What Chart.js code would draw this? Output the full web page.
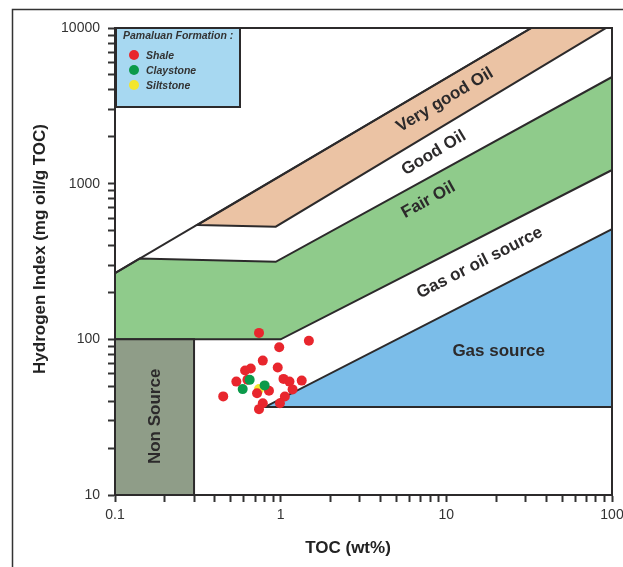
<!DOCTYPE html>
<html>
<head>
<meta charset="utf-8">
<title>Pamaluan Formation - HI vs TOC</title>
<script src="https://cdn.jsdelivr.net/npm/chart.js@4.4.1/dist/chart.umd.min.js"></script>
<style>
  html, body { margin: 0; padding: 0; background: #fff; }
  #wrap { position: relative; width: 623px; height: 567px; }
</style>
</head>
<body>
<div id="wrap"><canvas id="hiTocChart" width="623" height="567"></canvas></div>
<script>
// Pamaluan Formation samples (TOC wt%, HI mg oil/g TOC)
var shaleToc = [0.74, 0.98, 1.48, 0.78, 0.96, 0.66, 0.61, 0.63, 0.54, 1.04, 1.13, 1.34, 1.18, 0.85, 0.72, 0.45, 1.06, 0.78, 0.99, 0.74];
var shaleHi = [110, 89, 98, 73, 66, 65, 63, 55, 53.5, 55.7, 53.5, 54.3, 47.7, 46.8, 45.1, 43, 42.9, 38.9, 38.9, 35.6];
var claystoneToc = [0.59, 0.80, 0.65];
var claystoneHi = [47.9, 50.6, 54.9];
var siltstoneToc = [0.74];
var siltstoneHi = [47.9];

// log axis decades
var tocTicks = [0.1, 1, 10, 100];
var tocTickLabels = ['0.1', '1', '10', '100'];
var hiTicks = [10, 100, 1000, 10000];
var hiTickLabels = ['10', '100', '1000', '10000'];

// source rock zones, outlines as [TOC, HI]
var veryGoodOilZone = [[0.315, 543], [0.934, 529], [92, 10000], [32.6, 10000]];
var fairOilZone = [[0.1, 100], [1, 100], [100, 1224], [100, 4844], [0.934, 315], [0.141, 331], [0.1, 266]];
var gasSourceZone = [[0.805, 36.8], [100, 36.8], [100, 510]];
var nonSourceZone = [[0.1, 10], [0.3, 10], [0.3, 100], [0.1, 100]];
var oilLimitLine = [[0.1, 266], [32.6, 10000]];
var gasBaseLine = [[0.78, 36.8], [100, 36.8]];

var zoneLabels = ['Very good Oil', 'Good Oil', 'Fair Oil', 'Gas or oil source', 'Gas source', 'Non Source'];
var zoneLabelToc = [9.8, 8.4, 7.8, 15.9, 20.7, 0.175];
var zoneLabelHi = [3450, 1575, 785, 310, 84, 32];
var zoneLabelAngle = [-31, -31, -29, -27, 0, -90];

var legendTitle = 'Pamaluan Formation :';
var legendNames = ['Shale', 'Claystone', 'Siltstone'];
var legendColors = ['#e8262d', '#0b9a4a', '#f3e62c'];

function toPoints(xs, ys) {
    return xs.map(function (x, i) { return { x: x, y: ys[i] }; });
}

// all 1..9 steps inside each decade
function decadeTicks(majors) {
    var out = [];
    for (var i = 0; i < majors.length; i++) {
        for (var m = 1; m <= 9; m++) {
            if (i === majors.length - 1 && m > 1) break;
            out.push({ value: majors[i] * m });
        }
    }
    return out;
}

var font = 'Liberation Sans, Arial, sans-serif';
var ink = '#2c2a2b';

var zonesPlugin = {
    id: 'zones',
    beforeDatasetsDraw: function (chart) {
        var ctx = chart.ctx, xs = chart.scales.x, ys = chart.scales.y, a = chart.chartArea;

        function path(pts, close) {
            ctx.beginPath();
            pts.forEach(function (p, i) {
                var px = xs.getPixelForValue(p[0]), py = ys.getPixelForValue(p[1]);
                if (i === 0) ctx.moveTo(px, py); else ctx.lineTo(px, py);
            });
            if (close) ctx.closePath();
        }

        ctx.save();
        ctx.beginPath();
        ctx.rect(a.left, a.top, a.right - a.left, a.bottom - a.top);
        ctx.clip();
        ctx.lineWidth = 2;
        ctx.strokeStyle = ink;
        ctx.lineJoin = 'miter';

        [[veryGoodOilZone, '#ebc3a4'], [fairOilZone, '#8fcb8b'], [gasSourceZone, '#7bbde9'], [nonSourceZone, '#8f9d88']].forEach(function (z) {
            path(z[0], true);
            ctx.fillStyle = z[1];
            ctx.fill();
            ctx.stroke();
        });
        path(oilLimitLine, false);
        ctx.stroke();
        path(gasBaseLine, false);
        ctx.stroke();

        // zone names
        ctx.fillStyle = ink;
        ctx.font = 'bold 17px ' + font;
        ctx.textAlign = 'center';
        ctx.textBaseline = 'middle';
        zoneLabels.forEach(function (txt, i) {
            ctx.save();
            ctx.translate(xs.getPixelForValue(zoneLabelToc[i]), ys.getPixelForValue(zoneLabelHi[i]));
            ctx.rotate(zoneLabelAngle[i] * Math.PI / 180);
            ctx.fillText(txt, 0, 0);
            ctx.restore();
        });
        ctx.restore();
    },
    afterDatasetsDraw: function (chart) {
        var ctx = chart.ctx, a = chart.chartArea;
        ctx.save();
        ctx.lineWidth = 2;
        ctx.strokeStyle = ink;
        ctx.strokeRect(a.left, a.top, a.right - a.left, a.bottom - a.top);

        // legend box
        var lx = a.left + 1, ly = a.top;
        ctx.fillStyle = '#a7d8f1';
        ctx.fillRect(lx, ly, 124, 79);
        ctx.strokeRect(lx, ly, 124, 79);
        ctx.fillStyle = '#333';
        ctx.textAlign = 'left';
        ctx.textBaseline = 'middle';
        ctx.font = 'italic bold 10.5px ' + font;
        ctx.fillText(legendTitle, lx + 7, ly + 8);
        legendNames.forEach(function (name, i) {
            var cy = ly + 27 + i * 15;
            ctx.beginPath();
            ctx.arc(lx + 18, cy, 5, 0, Math.PI * 2);
            ctx.fillStyle = legendColors[i];
            ctx.fill();
            ctx.fillStyle = '#333';
            ctx.fillText(name, lx + 30, cy + 1);
        });

        // axis titles
        ctx.fillStyle = '#222';
        ctx.font = 'bold 17px ' + font;
        ctx.textAlign = 'center';
        ctx.fillText('TOC (wt%)', 348, 548);
        ctx.save();
        ctx.translate(40, 249);
        ctx.rotate(-Math.PI / 2);
        ctx.fillText('Hydrogen Index (mg oil/g TOC)', 0, 0);
        ctx.restore();

        // outer figure frame
        ctx.lineWidth = 1.5;
        ctx.strokeStyle = '#333';
        ctx.beginPath();
        ctx.moveTo(12.5, 567);
        ctx.lineTo(12.5, 9.5);
        ctx.lineTo(623, 9.5);
        ctx.stroke();
        ctx.restore();
    }
};

document.addEventListener('DOMContentLoaded', function () {
    var ctx = document.getElementById('hiTocChart').getContext('2d');

    var myChart = new Chart(ctx, {
        type: 'scatter',
        data: {
            datasets: [{
                label: 'Claystone',
                data: toPoints(claystoneToc, claystoneHi),
                backgroundColor: legendColors[1]
            }, {
                label: 'Shale',
                data: toPoints(shaleToc, shaleHi),
                backgroundColor: legendColors[0]
            }, {
                label: 'Siltstone',
                data: toPoints(siltstoneToc, siltstoneHi),
                backgroundColor: legendColors[2]
            }]
        },
        options: {
            responsive: false,
            animation: false,
            events: [],
            layout: { padding: { top: 28, right: 11, left: 0, bottom: 0 } },
            elements: { point: { radius: 5, hoverRadius: 5, borderWidth: 0 } },
            plugins: { legend: { display: false }, tooltip: { enabled: false } },
            scales: {
                x: {
                    type: 'logarithmic',
                    min: 0.1,
                    max: 100,
                    afterBuildTicks: function (scale) { scale.ticks = decadeTicks(tocTicks); },
                    afterFit: function (scale) {
                        scale.height = 72;
                        scale.paddingLeft = 0;
                        scale.paddingRight = 0;
                    },
                    grid: { drawOnChartArea: false, tickLength: 7, tickWidth: 2, tickColor: '#333' },
                    border: { color: '#333', width: 2 },
                    ticks: {
                        autoSkip: false,
                        maxRotation: 0,
                        padding: 5,
                        color: '#333',
                        font: { family: font, size: 14 },
                        callback: function (value) {
                            var k = tocTicks.indexOf(value);
                            return k >= 0 ? tocTickLabels[k] : '';
                        }
                    }
                },
                y: {
                    type: 'logarithmic',
                    min: 10,
                    max: 10000,
                    afterBuildTicks: function (scale) { scale.ticks = decadeTicks(hiTicks); },
                    afterFit: function (scale) {
                        scale.width = 115;
                        scale.paddingTop = 0;
                        scale.paddingBottom = 0;
                    },
                    grid: { drawOnChartArea: false, tickLength: 7, tickWidth: 2, tickColor: '#333' },
                    border: { color: '#333', width: 2 },
                    ticks: {
                        autoSkip: false,
                        padding: 8,
                        color: '#333',
                        font: { family: font, size: 14 },
                        callback: function (value) {
                            var k = hiTicks.indexOf(value);
                            return k >= 0 ? hiTickLabels[k] : '';
                        }
                    }
                }
            }
        },
        plugins: [zonesPlugin]
    });
});
</script>
</body>
</html>
